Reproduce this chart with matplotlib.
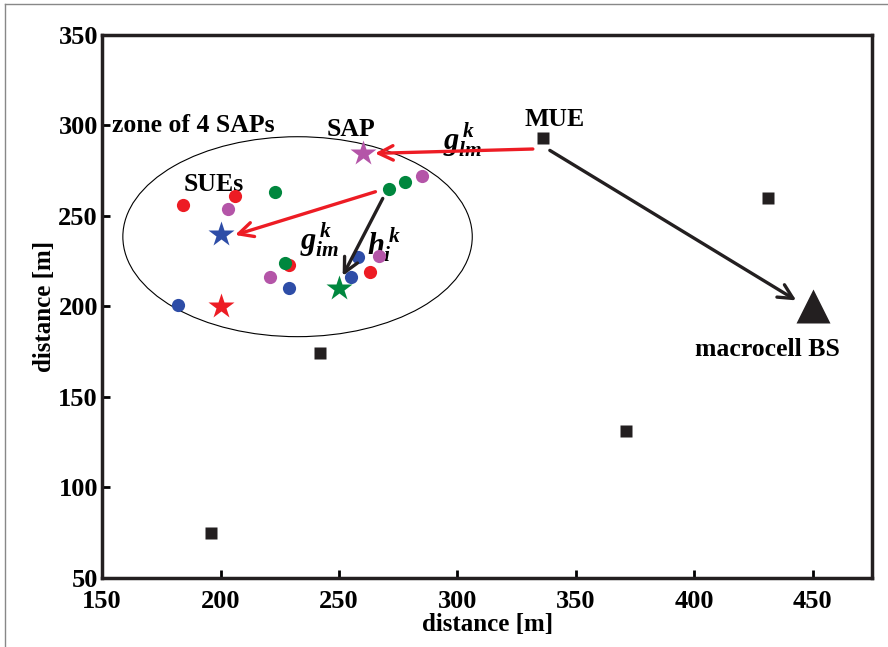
import matplotlib
matplotlib.use('Agg')
import matplotlib.pyplot as plt
from matplotlib.patches import Ellipse, FancyArrowPatch
from matplotlib.lines import Line2D

plt.rcParams['font.family'] = ['Liberation Serif', 'DejaVu Serif']
plt.rcParams['font.weight'] = 'bold'
plt.rcParams['mathtext.fontset'] = 'custom'
plt.rcParams['mathtext.it'] = 'Liberation Serif:italic:bold'
plt.rcParams['mathtext.rm'] = 'Liberation Serif:bold'

# SUE points (small circles) per colour
red_x = [184, 206, 229, 263]
red_y = [256, 261, 223, 219]
blue_x = [182, 229, 258, 255]
blue_y = [201, 210, 227, 216]
green_x = [223, 227, 271, 278]
green_y = [263, 224, 265, 269]
magenta_x = [203, 221, 267, 285]
magenta_y = [254, 216, 228, 272]

# SAPs (stars)
sap_x = [200, 200, 250, 260]
sap_y = [240, 200, 210, 285]
sap_colors = ['#2E4DA7', '#ED1C24', '#00873E', '#B455A8']

# MUEs (squares) and macrocell BS
mue_x = [336, 431, 242, 371, 196]
mue_y = [293, 260, 174, 131, 75]
bs_x, bs_y = 450, 200

red = '#ED1C24'
blue = '#2E4DA7'
green = '#00873E'
magenta = '#B455A8'

fig = plt.figure(figsize=(8.88, 6.47), dpi=100)
ax = fig.add_axes([0.115, 0.107, 0.867, 0.839])

# zone ellipse
ax.add_patch(Ellipse((232.5, 238.5), 147.5, 110.5, fill=False, edgecolor='black', linewidth=0.8, zorder=1))

txt = dict(fontsize=18.5, fontweight='bold', zorder=2)
ax.text(154, 300, 'zone of 4 SAPs', ha='left', va='center', **txt)
ax.text(255, 298, 'SAP', ha='center', va='center', **txt)
ax.text(197, 267.5, 'SUEs', ha='center', va='center', **txt)
ax.text(341, 303.5, 'MUE', ha='center', va='center', **txt)
ax.text(431, 176, 'macrocell BS', ha='center', va='center', **txt)
ax.text(302, 292, r'$g^{\,k}_{lm}$', ha='center', va='center', fontsize=22, zorder=2)
ax.text(242, 237, r'$g^{\,k}_{im}$', ha='center', va='center', fontsize=22, zorder=2)
ax.text(269, 234, r'$h^{\,k}_{i}$', ha='center', va='center', fontsize=22, zorder=2)

ms = 9.5
ax.plot(red_x, red_y, 'o', color=red, ms=ms, mec='none', zorder=3)
ax.plot(green_x, green_y, 'o', color=green, ms=ms, mec='none', zorder=3)
ax.plot(blue_x, blue_y, 'o', color=blue, ms=ms, mec='none', zorder=3)
ax.plot(magenta_x, magenta_y, 'o', color=magenta, ms=ms, mec='none', zorder=3)

for x, y, c in zip(sap_x, sap_y, sap_colors):
    ax.plot(x, y, '*', color=c, ms=19, mec='none', zorder=4)

ax.plot(mue_x, mue_y, 's', color='#231F20', ms=9, mec='none', zorder=3)
ax.plot(bs_x, bs_y, '^', color='#231F20', ms=25, mec='none', zorder=3)

# links
arrows = [
    ((333, 287), (264, 284.5), red),
    ((266.5, 263.8), (205, 239), red),
    ((269, 261), (251, 215.5), '#231F20'),
    ((338, 287), (444, 202.5), '#231F20'),
]
for start, end, c in arrows:
    ax.add_patch(FancyArrowPatch(start, end, arrowstyle='->', mutation_scale=26,
                                 color=c, linewidth=2.4, zorder=5))

ax.set_xlim(150, 475)
ax.set_ylim(50, 350)
ax.set_xticks([150, 200, 250, 300, 350, 400, 450])
ax.set_yticks([50, 100, 150, 200, 250, 300, 350])
ax.tick_params(direction='in', length=6, width=2, labelsize=19)
ax.tick_params(axis='x', pad=9)
ax.tick_params(axis='y', pad=3)
for lab in ax.get_xticklabels() + ax.get_yticklabels():
    lab.set_fontweight('bold')
for sp in ax.spines.values():
    sp.set_linewidth(2.5)
    sp.set_color('#231F20')

ax.set_xlabel('distance [m]', fontsize=18, fontweight='bold', labelpad=0)
ax.set_ylabel('distance [m]', fontsize=18, fontweight='bold', labelpad=2)

# thin grey frame of the original page crop
fig.add_artist(Line2D([0.006, 0.006], [0, 0.994], transform=fig.transFigure, color='#888888', lw=1))
fig.add_artist(Line2D([0.006, 1], [0.994, 0.994], transform=fig.transFigure, color='#888888', lw=1))

fig.savefig('out.png', dpi=100)
